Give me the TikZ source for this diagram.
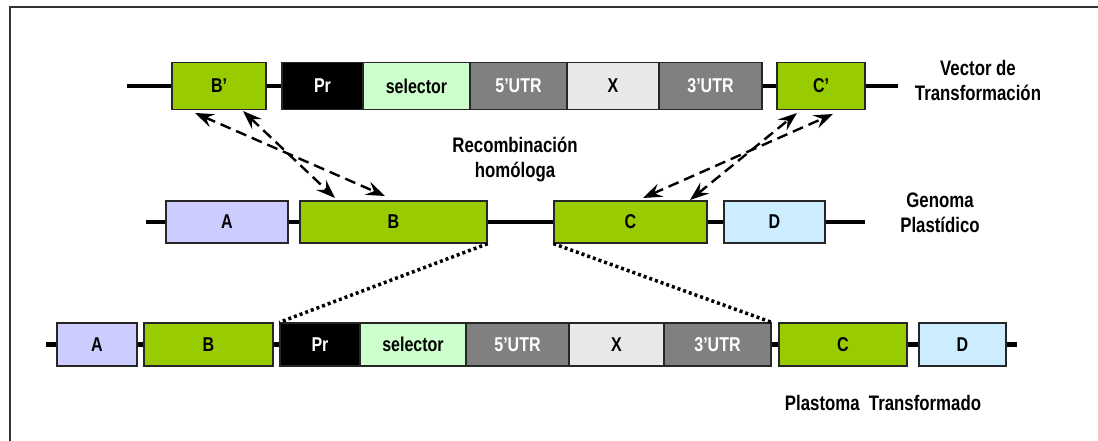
\documentclass[tikz,border=0pt]{standalone}
\usepackage{fontspec}
\setmainfont[FakeStretch=0.8]{Liberation Sans}
\usetikzlibrary{arrows.meta}
\definecolor{grn}{HTML}{99CC00}
\definecolor{lav}{HTML}{CCCCFF}
\definecolor{lblue}{HTML}{CCECFF}
\definecolor{lgreen}{HTML}{CCFFCC}
\definecolor{utr}{HTML}{808080}
\definecolor{xgray}{HTML}{E8E8E8}
\tikzset{
  gbox/.style={draw=black!85, line width=1.3pt, inner sep=0pt, font=\fontsize{20}{22}\selectfont\bfseries},
  lbl/.style={align=center, font=\fontsize{21}{25}\selectfont\bfseries, inner sep=0pt},
  backbone/.style={line width=4.5pt},
  recarrow/.style={line width=2.4pt, dash pattern=on 11pt off 6pt, {Stealth[length=19pt,width=14pt,inset=7pt]}-{Stealth[length=19pt,width=14pt,inset=7pt]}},
  dotline/.style={line width=3.5pt, dash pattern=on 3pt off 3pt},
}
\begin{document}
\begin{tikzpicture}[x=1pt,y=-1pt]
\useasboundingbox (0,0) rectangle (1098,441);
\draw[line width=2pt, black!80] (10,445) -- (10,7) -- (1102,7);
% Row 1: vector
\coordinate (v1s) at (127,86);
\coordinate (v1e) at (898,86);
\draw[backbone] (v1s) -- (v1e);
\node[gbox, fill=grn, minimum width=94, minimum height=47] (Bp) at (219,86) {B’};
\node[gbox, fill=black, text=white, minimum width=81, minimum height=47] (Pr1) at (322.5,86) {Pr};
\node[gbox, fill=lgreen, minimum width=107, minimum height=47] (sel1) at (416.5,86) {selector};
\node[gbox, fill=utr, text=white, minimum width=97, minimum height=47] (u51) at (518.5,86) {5’UTR};
\node[gbox, fill=xgray, minimum width=92, minimum height=47] (X1) at (613,86) {X};
\node[gbox, fill=utr, text=white, minimum width=103, minimum height=47] (u31) at (710.5,86) {3’UTR};
\node[gbox, fill=grn, minimum width=88, minimum height=47] (Cp) at (821,86) {C’};
\node[lbl] (vec) at (978,80) {Vector de\\Transformación};
% Row 2: genome
\coordinate (g2s) at (146,222);
\coordinate (g2e) at (865,222);
\draw[backbone] (g2s) -- (g2e);
\node[gbox, fill=lav, minimum width=122, minimum height=42] (A2) at (227,222) {A};
\node[gbox, fill=grn, minimum width=187, minimum height=42] (B2) at (393.5,222) {B};
\node[gbox, fill=grn, minimum width=153, minimum height=42] (C2) at (630.5,222) {C};
\node[gbox, fill=lblue, minimum width=101, minimum height=42] (D2) at (774.5,222) {D};
\node[lbl] (gen) at (940,213) {Genoma\\Plastídico};
\node[lbl] (rec) at (515,160) {Recombinación\\homóloga};
% Row 3: transformed plastome
\coordinate (t3s) at (46,344.5);
\coordinate (t3e) at (1017,344.5);
\draw[backbone] (t3s) -- (t3e);
\node[gbox, fill=lav, minimum width=80, minimum height=43] (A3) at (97,344.5) {A};
\node[gbox, fill=grn, minimum width=129, minimum height=43] (B3) at (208.5,344.5) {B};
\node[gbox, fill=black, text=white, minimum width=80, minimum height=43] (Pr3) at (320,344.5) {Pr};
\node[gbox, fill=lgreen, minimum width=106, minimum height=43] (sel3) at (413,344.5) {selector};
\node[gbox, fill=utr, text=white, minimum width=103, minimum height=43] (u53) at (517.5,344.5) {5’UTR};
\node[gbox, fill=xgray, minimum width=95, minimum height=43] (X3) at (616.5,344.5) {X};
\node[gbox, fill=utr, text=white, minimum width=107, minimum height=43] (u33) at (717.5,344.5) {3’UTR};
\node[gbox, fill=grn, minimum width=128, minimum height=43] (C3) at (843,344.5) {C};
\node[gbox, fill=lblue, minimum width=87, minimum height=43] (D3) at (962.5,344.5) {D};
\node[lbl] (plas) at (883,403) {Plastoma~~Transformado};
% recombination arrows
\coordinate (a1) at (195,113);
\coordinate (a2) at (385,196);
\coordinate (a3) at (243,111);
\coordinate (a4) at (335,198);
\coordinate (a5) at (643,198);
\coordinate (a6) at (833,114);
\coordinate (a7) at (690,200);
\coordinate (a8) at (797,113);
\draw[recarrow] (a1) -- (a2);
\draw[recarrow] (a3) -- (a4);
\draw[recarrow] (a5) -- (a6);
\draw[recarrow] (a7) -- (a8);
% dotted lines
\draw[dotline] (B2.south east) -- (Pr3.north west);
\draw[dotline] (C2.south west) -- (u33.north east);
\end{tikzpicture}
\end{document}
